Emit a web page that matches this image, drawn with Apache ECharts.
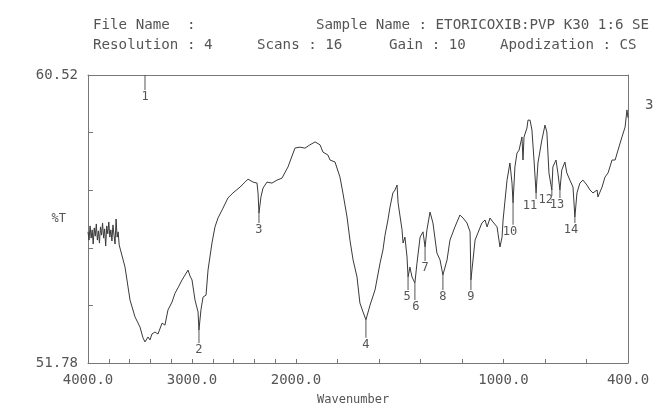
<!DOCTYPE html>
<html>
<head>
<meta charset="utf-8">
<script src="https://cdn.jsdelivr.net/npm/echarts@6/dist/echarts.min.js"></script>
<style>
  html, body { margin: 0; padding: 0; background: #fff; }
  #main { width: 657px; height: 408px; }
</style>
</head>
<body>
<div id="main"></div>
<script>
// 4000 - 2000 cm-1 (compressed part of the plot)
var highWave = [4000, 3990, 3980, 3970, 3960, 3950, 3940, 3930, 3920, 3910, 3900, 3890, 3880, 3870, 3860,
  3850, 3840, 3830, 3820, 3810, 3800, 3790, 3780, 3770, 3760, 3750, 3740, 3730, 3720, 3710, 3700,
  3644, 3596, 3548, 3500, 3471, 3452, 3423, 3404, 3385, 3356, 3327, 3288, 3260, 3231, 3192, 3163,
  3135, 3096, 3067, 3048, 3038, 3019, 3000, 2971, 2942, 2933, 2914, 2894, 2865, 2846, 2808, 2779,
  2750, 2702, 2654, 2606, 2538, 2490, 2462, 2413, 2375, 2365, 2356, 2337, 2317, 2279, 2231, 2183,
  2135, 2077, 2010, 2000];
var highT = [55.76, 55.51, 55.94, 55.57, 55.82, 55.39, 55.88, 55.63, 56.00, 55.51, 55.79, 55.42, 55.91, 55.66, 56.03,
  55.57, 55.85, 55.33, 55.94, 55.70, 56.06, 55.60, 55.82, 55.48, 55.97, 55.66, 55.39, 56.15, 55.60, 55.76, 55.36,
  54.69, 53.69, 53.18, 52.87, 52.54, 52.42, 52.57, 52.48, 52.66, 52.72, 52.66, 52.99, 52.93, 53.39, 53.63, 53.90,
  54.06, 54.30, 54.45, 54.51, 54.60, 54.42, 54.30, 53.69, 53.33, 52.78, 53.39, 53.78, 53.84, 54.60, 55.42, 55.91,
  56.18, 56.48, 56.79, 56.94, 57.12, 57.27, 57.36, 57.27, 57.24, 56.94, 56.33, 56.82, 57.09, 57.27, 57.24, 57.33,
  57.39, 57.73, 58.30, 58.31];

// 2000 - 400 cm-1 (expanded part)
var lowWave = [2000, 1981, 1957, 1933, 1908, 1884, 1870, 1846, 1836, 1812, 1788, 1774, 1754, 1740, 1725, 1706,
  1692, 1677, 1663, 1643, 1619, 1595, 1581, 1571, 1557, 1547, 1533, 1523, 1513, 1508, 1489, 1484,
  1475, 1465, 1460, 1451, 1441, 1427, 1417, 1402, 1388, 1378, 1369, 1354, 1345, 1340, 1321, 1306,
  1292, 1272, 1258, 1234, 1210, 1195, 1176, 1161, 1157, 1137, 1123, 1104, 1089, 1079, 1065, 1051,
  1031, 1027, 1017, 1007, 1002, 983, 969, 959, 954, 945, 935, 925, 911, 906, 901, 887, 882, 872,
  863, 853, 843, 834, 815, 800, 791, 781, 767, 762, 747, 738, 728, 719, 704, 695, 680, 665, 656,
  646, 632, 617, 598, 583, 569, 549, 545, 525, 511, 496, 477, 462, 448, 429, 414, 405, 400];
var lowT = [58.31, 58.33, 58.30, 58.40, 58.49, 58.40, 58.18, 58.09, 57.94, 57.88, 57.42, 56.94, 56.21, 55.51, 54.91, 54.39,
  53.60, 53.33, 53.09, 53.54, 54.00, 54.81, 55.21, 55.66, 56.12, 56.51, 56.94, 57.03, 57.18, 56.64, 55.82, 55.42,
  55.60, 55.00, 54.39, 54.69, 54.39, 54.21, 54.81, 55.60, 55.76, 55.30, 55.82, 56.36, 56.36, 56.03, 55.12, 54.91,
  54.45, 54.91, 55.51, 55.91, 56.27, 56.18, 56.03, 55.76, 54.30, 55.51, 55.73, 56.03, 56.12, 55.91, 56.18, 56.06,
  55.91, 55.73, 55.30, 55.60, 56.12, 57.33, 57.85, 57.24, 56.64, 57.73, 58.15, 58.24, 58.64, 57.94, 58.64, 58.91, 59.15, 59.15,
  58.85, 57.94, 56.94, 57.85, 58.55, 59.00, 58.79, 57.55, 57.03, 57.73, 57.94, 57.55, 57.03, 57.64, 57.88, 57.55, 57.33, 57.12, 56.21,
  56.94, 57.24, 57.33, 57.18, 57.03, 56.94, 57.03, 56.82, 57.12, 57.42, 57.55, 57.94, 57.94, 58.24, 58.64, 58.94, 59.46, 59.22];

// numbered peaks
var peakNames = ['1', '2', '3', '4', '5', '6', '7', '8', '9', '10', '11', '12', '13', '14'];
var peakWave = [3452, 2933, 2356, 1663, 1460, 1427, 1378, 1292, 1157, 954, 843, 767, 728, 656];
var peakT = [60.52, 52.78, 56.33, 53.09, 54.39, 54.21, 55.30, 54.45, 54.30, 56.64, 56.94, 57.03, 57.03, 56.21];

var yMin = 51.78, yMax = 60.52;

var mono = 'DejaVu Sans Mono';
var ink = '#555';
var axisCol = '#777';

function zip(a, b) {
  return a.map(function (v, i) { return [v, b[i]]; });
}

// marker line length and label shift per peak
var markLen = [15, 13, 10, 18, 13, 17, 14, 15, 10, 22, 6, 6, 8, 6];
var markShift = [[0, 0], [0, 0], [0, 0], [0, 0], [-1, 0], [1, 0], [0, 0], [0, 0], [0, 0], [-3, 0], [-6, 0], [-6, -3], [-3, 0], [-4, 0]];

function peakMarks(high) {
  var out = [];
  peakWave.forEach(function (w, i) {
    if ((w >= 2000) !== high) return;
    out.push({
      name: peakNames[i],
      coord: [w, peakT[i]],
      symbolSize: [1, markLen[i]],
      symbolOffset: [0, markLen[i] / 2],
      label: { offset: markShift[i] }
    });
  });
  return out;
}

var markBase = {
  symbol: 'rect',
  itemStyle: { color: ink },
  label: {
    show: true, position: 'bottom', distance: 1,
    formatter: '{b}', color: ink, fontFamily: mono, fontSize: 12
  },
  animation: false
};

function fmtY(v) {
  if (Math.abs(v - yMin) < 0.01) return yMin.toFixed(2);
  if (Math.abs(v - yMax) < 0.01) return yMax.toFixed(2);
  return '';
}

var headStyle = { fontFamily: mono, fontSize: 14.2, fontWeight: 'normal', color: ink };

var option = {
  animation: false,
  backgroundColor: '#fff',
  title: [
    { text: 'File Name  :', left: 88, top: 13, textStyle: headStyle },
    { text: 'Sample Name : ETORICOXIB:PVP K30 1:6 SE', left: 311, top: 13, textStyle: headStyle },
    { text: 'Resolution : 4', left: 88, top: 33, textStyle: headStyle },
    { text: 'Scans : 16', left: 252, top: 33, textStyle: headStyle },
    { text: 'Gain : 10', left: 384, top: 33, textStyle: headStyle },
    { text: 'Apodization : CS', left: 495, top: 33, textStyle: headStyle },
    { text: 'Wavenumber', left: 312, top: 389, textStyle: { fontFamily: mono, fontSize: 12, fontWeight: 'normal', color: ink } },
    { text: '3', left: 640, top: 93, textStyle: { fontFamily: mono, fontSize: 14, fontWeight: 'normal', color: ink } }
  ],
  grid: [
    { left: 88, top: 75, width: 208, height: 288 },
    { left: 296, top: 75, right: 29, height: 288 }
  ],
  xAxis: [
    {
      type: 'value', gridIndex: 0, min: 2000, max: 4000, interval: 200, inverse: true,
      axisLine: { lineStyle: { color: axisCol } },
      axisTick: { inside: true, length: 4, lineStyle: { color: axisCol } },
      splitLine: { show: false },
      axisLabel: {
        color: ink, fontFamily: mono, fontSize: 14, margin: 10,
        formatter: function (v) { return v % 1000 === 0 ? v.toFixed(1) : ''; }
      }
    },
    {
      type: 'value', gridIndex: 1, min: 400, max: 2000, interval: 200, inverse: true,
      axisLine: { lineStyle: { color: axisCol } },
      axisTick: { inside: true, length: 4, lineStyle: { color: axisCol } },
      splitLine: { show: false },
      axisLabel: {
        color: ink, fontFamily: mono, fontSize: 14, margin: 10,
        formatter: function (v) { return (v === 1000 || v === 400) ? v.toFixed(1) : ''; }
      }
    },
    // top frame
    { type: 'value', gridIndex: 0, position: 'top', min: 2000, max: 4000, inverse: true,
      axisLine: { lineStyle: { color: axisCol } }, axisTick: { show: false }, axisLabel: { show: false }, splitLine: { show: false } },
    { type: 'value', gridIndex: 1, position: 'top', min: 400, max: 2000, inverse: true,
      axisLine: { lineStyle: { color: axisCol } }, axisTick: { show: false }, axisLabel: { show: false }, splitLine: { show: false } }
  ],
  yAxis: [
    {
      type: 'value', gridIndex: 0, min: yMin, max: yMax, interval: 1.748,
      name: '%T', nameLocation: 'middle', nameGap: 22, nameRotate: 0, nameMoveOverlap: false,
      nameTextStyle: { color: ink, fontFamily: mono, fontSize: 12 },
      axisLine: { show: true, lineStyle: { color: axisCol } },
      axisTick: { inside: true, length: 5, lineStyle: { color: axisCol } },
      splitLine: { show: false },
      axisLabel: { color: ink, fontFamily: mono, fontSize: 14, margin: 10, formatter: fmtY }
    },
    {
      type: 'value', gridIndex: 1, position: 'right', min: yMin, max: yMax,
      axisLine: { show: true, lineStyle: { color: axisCol } },
      axisTick: { show: false }, axisLabel: { show: false }, splitLine: { show: false }
    }
  ],
  series: [
    {
      type: 'line', xAxisIndex: 0, yAxisIndex: 0, data: zip(highWave, highT),
      showSymbol: false, lineStyle: { color: '#3a3a3a', width: 1 },
      markPoint: Object.assign({ data: peakMarks(true) }, markBase)
    },
    {
      type: 'line', xAxisIndex: 1, yAxisIndex: 1, data: zip(lowWave, lowT),
      showSymbol: false, lineStyle: { color: '#3a3a3a', width: 1 },
      markPoint: Object.assign({ data: peakMarks(false) }, markBase)
    }
  ]
};

var chart = echarts.init(document.getElementById('main'));
chart.setOption(option);
</script>
</body>
</html>
